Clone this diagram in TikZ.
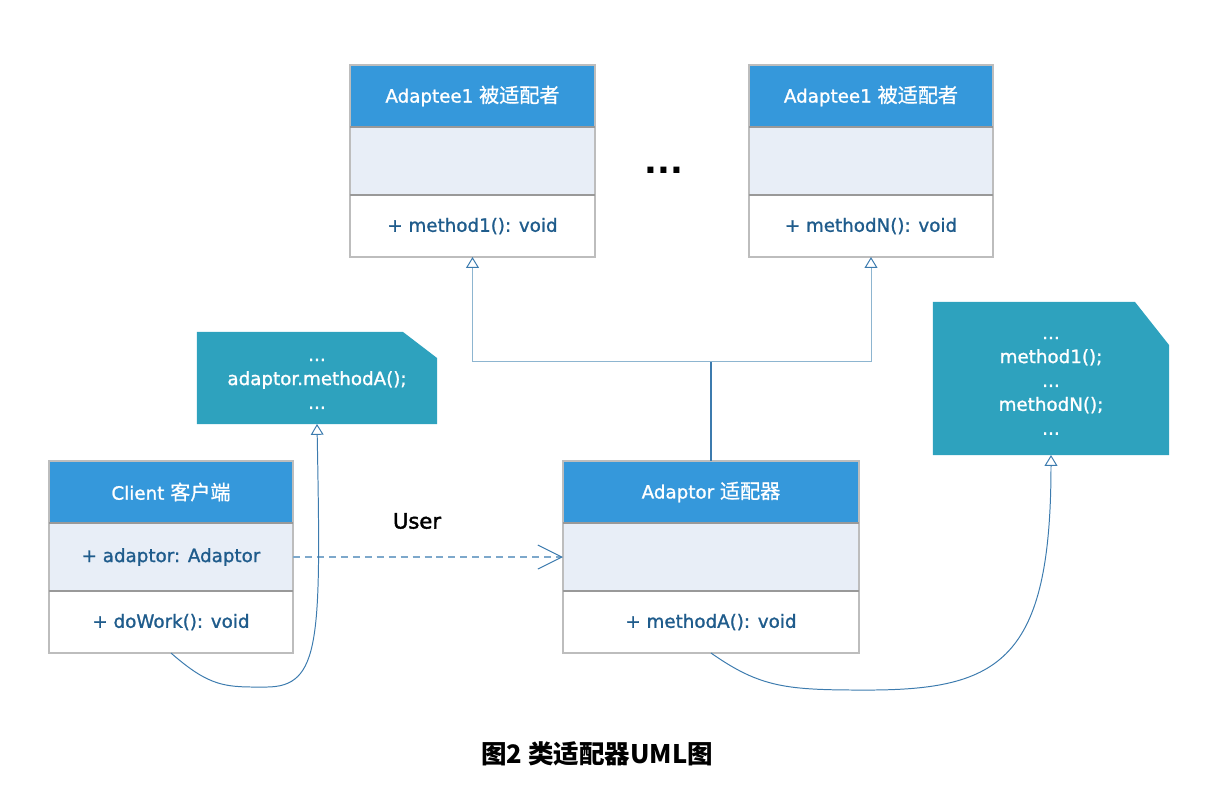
\documentclass[tikz,border=0pt]{standalone}
\usepackage{fontspec}
\setmainfont{DejaVu Sans}
\newfontfamily\semifont{DejaVu Sans}[FakeBold = 1.2]
\newfontfamily\userfont{DejaVu Sans}[FakeBold = 2]
\newfontfamily\cjk{Noto Sans CJK SC}[Scale = 1.1, FakeBold = 0.8]
\newfontfamily\cjkcaption{Noto Sans CJK SC}[Scale = 1.1]
\usetikzlibrary{positioning, arrows.meta, backgrounds}
\definecolor{headblue}{HTML}{3598DB}
\definecolor{attrfill}{HTML}{E8EEF7}
\definecolor{boxgray}{HTML}{BDBDBD}
\definecolor{divgray}{HTML}{999999}
\definecolor{textblue}{HTML}{1F5C8C}
\definecolor{notefill}{HTML}{2EA2BE}
\definecolor{linkblue}{HTML}{3C7BAE}
\definecolor{lightblue}{HTML}{8DB5D0}
\definecolor{dashblue}{HTML}{7DA8CB}

\begin{document}
\begin{tikzpicture} [x = 0.025cm, y = -0.025cm,
  classtext/.style = {font = \fontsize{13}{16}\semifont, draw = boxgray, line width = 0.9pt, outer sep = 0pt, inner sep = 0pt},
  classhead/.style = {classtext, fill = headblue, text = white, minimum width = #1, minimum height = 1.55cm},
  classattr/.style = {classtext, fill = attrfill, text = textblue, minimum width = #1, minimum height = 1.7cm},
  classmeth/.style = {classtext, fill = white, text = textblue, minimum width = #1, minimum height = 1.55cm},
  notebox/.style = {text = white, align = center, font = \fontsize{13}{17}\semifont, inner sep = 0pt, outer sep = 0pt},
  inherit/.style = {-{Triangle[open, length = 0.27cm, width = 0.32cm, color = linkblue]}, line width = 0.7pt}]
\useasboundingbox (0, 0) rectangle (1218, 808);
\node[classhead = 6.125cm] (a1head) at (472.5, 96) {Adaptee1 {\cjk 被适配者}};
\node[classattr = 6.125cm, below = 0pt of a1head] (a1attr) {};
\node[classmeth = 6.125cm, below = 0pt of a1attr] (a1meth) {+ method1(): void};
\node[classhead = 6.1cm] (anhead) at (871, 96) {Adaptee1 {\cjk 被适配者}};
\node[classattr = 6.1cm, below = 0pt of anhead] (anattr) {};
\node[classmeth = 6.1cm, below = 0pt of anattr] (anmeth) {+ methodN(): void};
\node[classhead = 6.1cm] (clienthead) at (171, 492) {Client {\cjk 客户端}};
\node[classattr = 6.1cm, below = 0pt of clienthead] (clientattr) {+ adaptor: Adaptor};
\node[classmeth = 6.1cm, below = 0pt of clientattr] (clientmeth) {+ doWork(): void};
\node[classhead = 7.4cm] (adaptorhead) at (711, 492) {Adaptor {\cjk 适配器}};
\node[classattr = 7.4cm, below = 0pt of adaptorhead] (adaptorattr) {};
\node[classmeth = 7.4cm, below = 0pt of adaptorattr] (adaptormeth) {+ methodA(): void};
\draw[divgray, line width = 0.9pt] (a1attr.north west) -- (a1attr.north east);
\draw[divgray, line width = 0.9pt] (a1meth.north west) -- (a1meth.north east);
\draw[divgray, line width = 0.9pt] (anattr.north west) -- (anattr.north east);
\draw[divgray, line width = 0.9pt] (anmeth.north west) -- (anmeth.north east);
\draw[divgray, line width = 0.9pt] (clientattr.north west) -- (clientattr.north east);
\draw[divgray, line width = 0.9pt] (clientmeth.north west) -- (clientmeth.north east);
\draw[divgray, line width = 0.9pt] (adaptorattr.north west) -- (adaptorattr.north east);
\draw[divgray, line width = 0.9pt] (adaptormeth.north west) -- (adaptormeth.north east);
\node[font = \fontsize{24}{24}\selectfont\bfseries] (dots) at (664, 170) {...};
\node[notebox, text height = 44pt, minimum width = 6cm, minimum height = 2.3cm] (note1) at (317, 378) {...\\adaptor.methodA();\\...};
\node[notebox, text height = 80pt, minimum width = 5.9cm, minimum height = 3.825cm] (note2) at (1051, 378.5) {...\\method1();\\...\\methodN();\\...};
\begin{scope}[on background layer]
\fill[notefill] (note1.south west) -- (note1.north west) -- ([xshift = -0.85cm] note1.north east) -- ([yshift = -0.65cm] note1.north east) -- (note1.south east) -- cycle;
\fill[notefill] (note2.south west) -- (note2.north west) -- ([xshift = -0.85cm] note2.north east) -- ([yshift = -1.075cm] note2.north east) -- (note2.south east) -- cycle;
\end{scope}
\node[font = \fontsize{15}{18}\userfont] (user) at (417, 521) {User};
\node[font = \fontsize{16.5}{20}\selectfont\cjkcaption\bfseries] (caption) at (597, 754) {图2 类适配器UML图};
\coordinate (join) at (711, 361);
\draw[linkblue, line width = 0.8pt] (adaptorhead.north) -- (join);
\draw[inherit, lightblue] (join) -| (a1meth.south);
\draw[inherit, lightblue] (join) -| (anmeth.south);
\draw[dashblue, line width = 1pt, dash pattern = on 5pt off 3.5pt, -{Straight Barb[length = 0.6cm, width = 0.6cm, color = linkblue, line width = 0.7pt]}] (clientattr.east) -- (adaptorattr.west);
\draw[inherit, linkblue] (clientmeth.south) .. controls +(40, 35) and +(-40, 0) .. ++(95, 34) .. controls +(55, 0) and +(4, 216) .. (note1.south);
\draw[inherit, linkblue] (adaptormeth.south) .. controls +(50, 35) and +(-80, 0) .. ++(156, 37) .. controls +(133, 0) and +(0, 205) .. (note2.south);
\end{tikzpicture}
\end{document}
